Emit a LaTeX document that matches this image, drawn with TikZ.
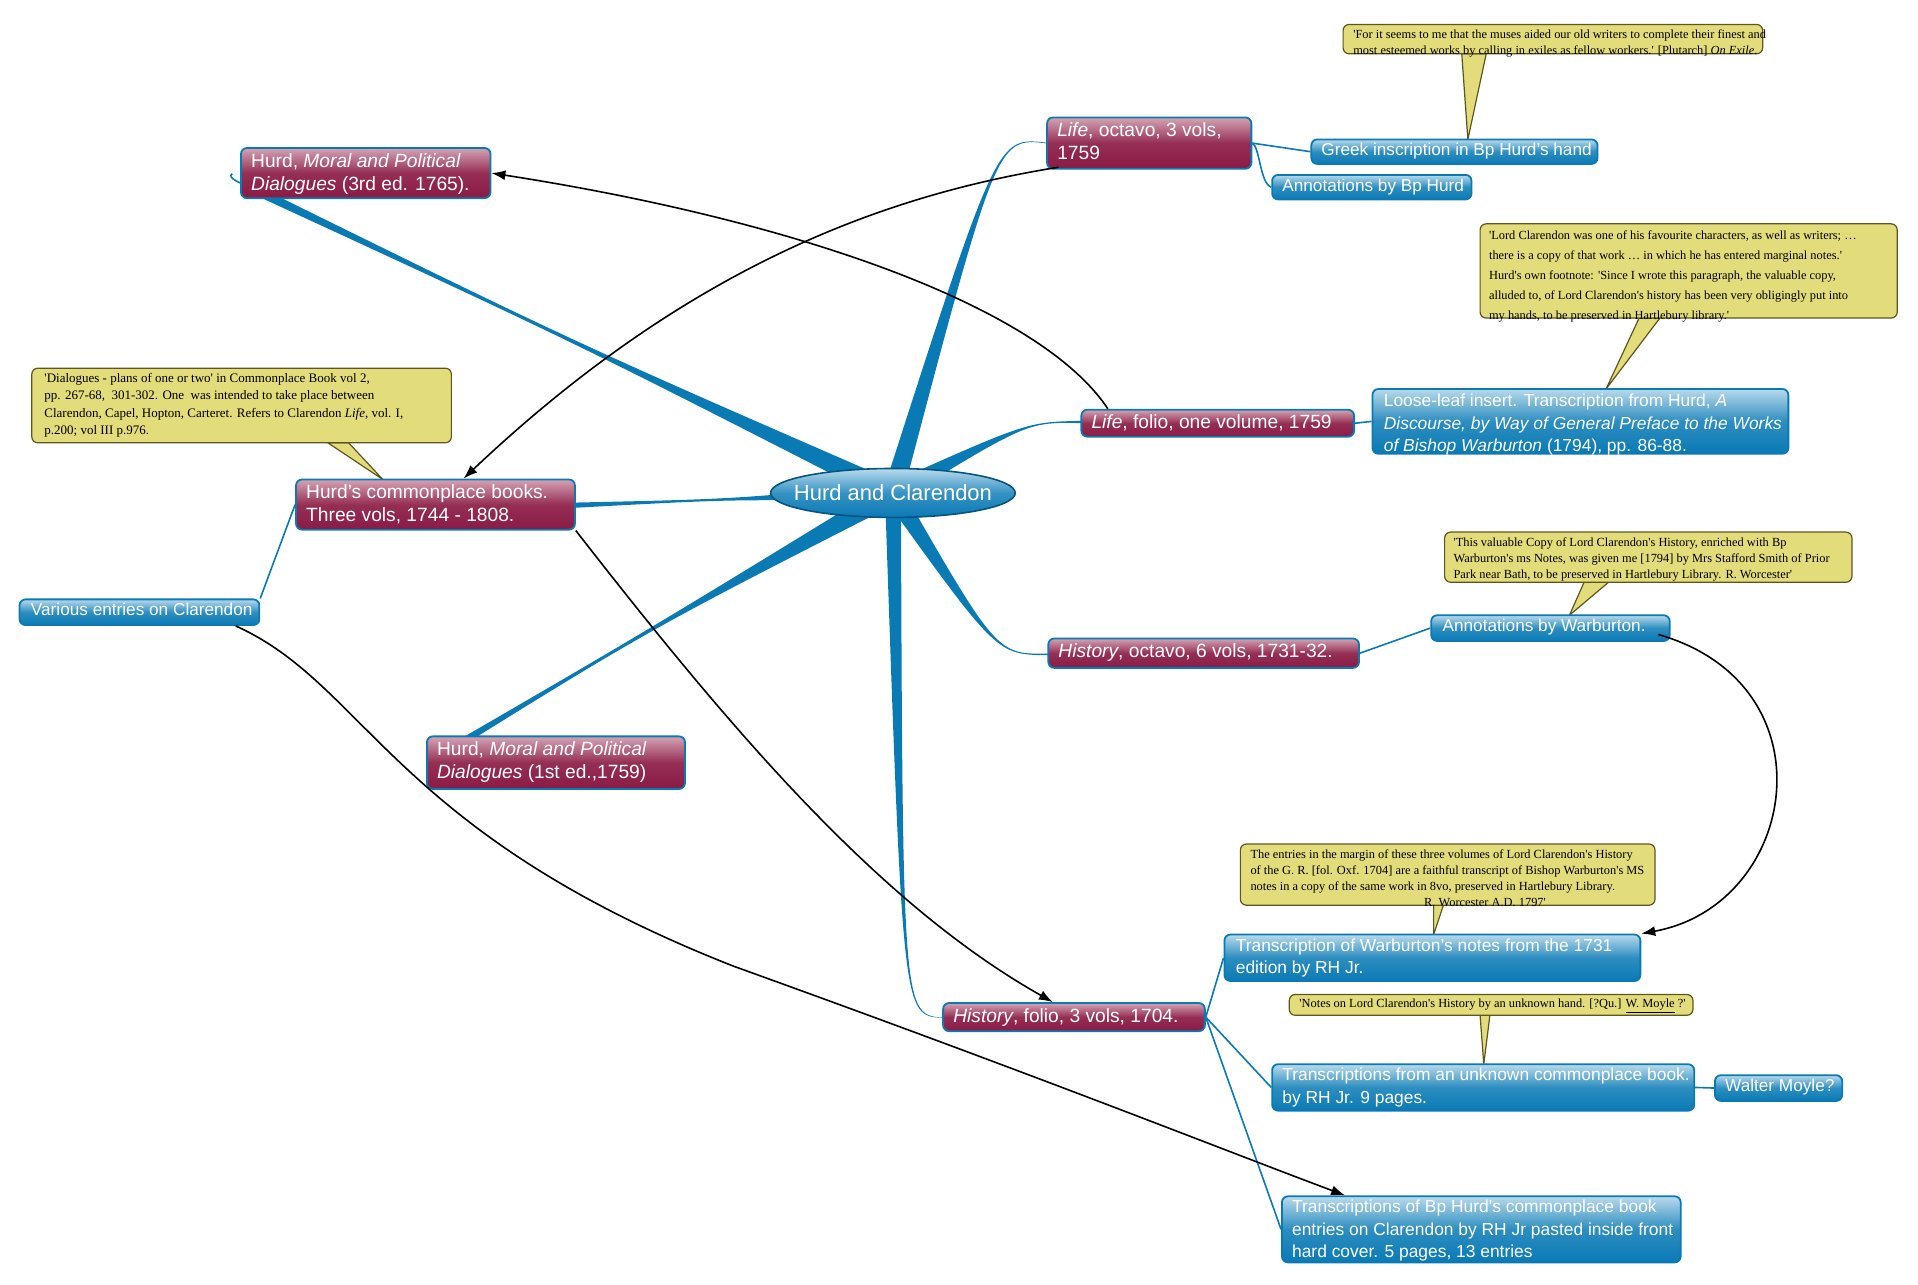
\documentclass[tikz,border=0pt]{standalone}
\usepackage{fontspec}
\setmainfont{Liberation Sans}
\newfontfamily\calfont{Liberation Serif}
\usetikzlibrary{calc,fit,arrows.meta,shapes.geometric}
\definecolor{br}{HTML}{0A7AB5}
\definecolor{mar}{HTML}{8A1A44}
\definecolor{marl}{HTML}{D4A3B3}
\definecolor{bll}{HTML}{B8DAEC}
\definecolor{cy}{HTML}{E3DC7A}
\definecolor{cyd}{HTML}{5E5520}
\def\u{0.6116pt}
\tikzset{
 mbox/.style={draw=br,line width=0.9pt,rounded corners=3pt,inner sep=0pt,top color=marl,bottom color=mar,middle color=mar!85!marl},
 bbox/.style={draw=br,line width=0.9pt,rounded corners=3pt,inner sep=0pt,top color=bll,bottom color=br,middle color=br!80!bll},
 txt/.style={anchor=north west,text=white,font=\fontsize{9.6}{11.6}\selectfont,align=left,inner sep=0pt},
 cbox/.style={draw=cyd,fill=cy,line width=0.6pt,rounded corners=3pt,inner sep=0pt},
 ctxt/.style={anchor=north west,font=\calfont\fontsize{6.2}{8.1}\selectfont,align=left,inner sep=0pt},
 tail/.style={draw=cyd,fill=cy,line width=0.6pt,line join=round},
 branch/.style={fill=br},
 thin/.style={draw=br,line width=0.8pt},
 arr/.style={draw=black,line width=0.8pt,-{Latex[length=7pt,width=5pt]}},
}
\newcommand\taper[5]{\fill[branch] ($(#1)!#3!90:(#2)$) .. controls (#5) .. ($(#2)!#4!-90:(#1)$) -- ($(#2)!#4!90:(#1)$) .. controls (#5) .. ($(#1)!#3!-90:(#2)$) -- cycle;}
\begin{document}
\begin{tikzpicture}[x=0.6116pt,y=-0.6116pt]
\useasboundingbox (0,0) rectangle (1568,1050);
\coordinate (c) at (730,403);
% branches
\coordinate (e1) at (214,158); \coordinate (k1) at (470,280);
\taper{c}{e1}{5.5pt}{2.2pt}{k1}
\coordinate (e2) at (856,117); \coordinate (k2) at (815,112);
\taper{c}{e2}{5pt}{0.6pt}{k2}
\coordinate (e3) at (884,345); \coordinate (k3) at (840,345);
\taper{c}{e3}{5pt}{0.6pt}{k3}
\coordinate (e4) at (470,413); \coordinate (k4) at (600,408);
\taper{c}{e4}{4.5pt}{1.3pt}{k4}
\coordinate (e5) at (857,535); \coordinate (k5) at (815,535);
\taper{c}{e5}{5pt}{0.6pt}{k5}
\coordinate (e6) at (352,622); \coordinate (k6) at (530,515);
\taper{c}{e6}{5.5pt}{2pt}{k6}
\coordinate (e7) at (771,832); \coordinate (k7) at (738,830);
\taper{c}{e7}{4pt}{0.6pt}{k7}
\draw[br,line width=0.8pt] (214,156) .. controls (195,150) and (185,145) .. (190,142);
% center
\node[draw=br!70!black,line width=0.8pt,ellipse,inner xsep=-8pt,inner ysep=0pt,minimum width=200*\u,minimum height=40*\u,top color=bll,bottom color=br,middle color=br!75!bll,text=white,font=\fontsize{11}{13}\selectfont] (hc) at (c) {Hurd and Clarendon};
% callout tails
\fill[tail] (1195,44) -- (1215,44) -- (1200,114) -- cycle;
\fill[tail] (1340,260) -- (1357,260) -- (1313,318) -- cycle;
\fill[tail] (268,362) -- (285,362) -- (313,392) -- cycle;
\fill[tail] (1295,476) -- (1315,476) -- (1283,503) -- cycle;
\fill[tail] (1172,740) -- (1180,740) -- (1172,764) -- cycle;
\fill[tail] (1210,830) -- (1218,830) -- (1213,870) -- cycle;
% callouts
\node[cbox,fit={(1098,20)(1441,44)}] (q1) {};
\node[ctxt] at (1106,24) {'For it seems to me that the muses aided our old writers to complete their finest and\\most esteemed works by calling in exiles as fellow workers.' [Plutarch] \textit{On Exile}.};
\node[cbox,fit={(1210,183)(1551,260)}] (q2) {};
\node[ctxt,font=\calfont\fontsize{6.2}{10}\selectfont] at (1217,188) {'Lord Clarendon was one of his favourite characters, as well as writers; \dots\\there is a copy of that work \dots\ in which he has entered marginal notes.'\\Hurd's own footnote: 'Since I wrote this paragraph, the valuable copy,\\alluded to, of Lord Clarendon's history has been very obligingly put into\\my hands, to be preserved in Hartlebury library.'};
\node[cbox,fit={(26,301)(369,362)}] (q3) {};
\node[ctxt,font=\calfont\fontsize{6.5}{8.6}\selectfont] at (36,305) {'Dialogues - plans of one or two' in Commonplace Book vol 2,\\pp. 267-68,\ \ 301-302. One\ \ was intended to take place between\\Clarendon, Capel, Hopton, Carteret. Refers to Clarendon \textit{Life}, vol. I,\\p.200; vol III p.976.};
\node[cbox,fit={(1181,435)(1514,476)}] (q4) {};
\node[ctxt] at (1188,439) {'This valuable Copy of Lord Clarendon's History, enriched with Bp\\Warburton's ms Notes, was given me [1794] by Mrs Stafford Smith of Prior\\Park near Bath, to be preserved in Hartlebury Library. R. Worcester'};
\node[cbox,fit={(1014,690)(1353,740)}] (q5) {};
\node[ctxt] at (1022,694) {The entries in the margin of these three volumes of Lord Clarendon's History\\of the G. R. [fol. Oxf. 1704] are a faithful transcript of Bishop Warburton's MS\\notes in a copy of the same work in 8vo, preserved in Hartlebury Library.\\\hspace*{14em}R. Worcester A.D. 1797'};
\node[cbox,fit={(1054,813)(1384,830)}] (q6) {};
\node[ctxt] at (1062,816) {'Notes on Lord Clarendon's History by an unknown hand. [?Qu.] \underline{W. Moyle} ?'};
% main nodes
\node[mbox,fit={(197,121)(401,162)}] (m3) {};
\node[txt] at (205,125) {Hurd, \textit{Moral and Political}\\\textit{Dialogues} (3rd ed. 1765).};
\node[mbox,fit={(856,96)(1023,138)}] (lo) {};
\node[txt] at (864,100) {\textit{Life}, octavo, 3 vols,\\1759};
\node[mbox,fit={(884,335)(1107,357)}] (lf) {};
\node[txt] at (892,339) {\textit{Life}, folio, one volume, 1759};
\node[mbox,fit={(242,392)(470,433)}] (cp) {};
\node[txt] at (250,396) {Hurd's commonplace books.\\Three vols, 1744 - 1808.};
\node[mbox,fit={(857,522)(1111,546)}] (ho) {};
\node[txt] at (865,526) {\textit{History}, octavo, 6 vols, 1731-32.};
\node[mbox,fit={(349,602)(560,645)}] (m1) {};
\node[txt] at (357,606) {Hurd, \textit{Moral and Political}\\\textit{Dialogues} (1st ed.,1759)};
\node[mbox,fit={(771,820)(985,843)}] (hf) {};
\node[txt] at (779,824) {\textit{History}, folio, 3 vols, 1704.};
% sub nodes
\node[bbox,fit={(1072,114)(1306,134)}] (gi) {};
\node[txt,font=\fontsize{8.6}{10.6}\selectfont] at (1080,117) {Greek inscription in Bp Hurd's hand};
\node[bbox,fit={(1040,143)(1203,163)}] (ah) {};
\node[txt,font=\fontsize{8.6}{10.6}\selectfont] at (1048,146) {Annotations by Bp Hurd};
\node[bbox,fit={(1122,318)(1462,371)}] (ll) {};
\node[txt,font=\fontsize{8.7}{11.2}\selectfont] at (1131,322) {Loose-leaf insert. Transcription from Hurd, \textit{A}\\\textit{Discourse, by Way of General Preface to the Works}\\\textit{of Bishop Warburton} (1794), pp. 86-88.};
\node[bbox,fit={(16,490)(212,511)}] (ve) {};
\node[txt,font=\fontsize{8.6}{10.6}\selectfont] at (25,493) {Various entries on Clarendon};
\node[bbox,fit={(1170,503)(1365,524)}] (aw) {};
\node[txt,font=\fontsize{8.6}{10.6}\selectfont] at (1179,506) {Annotations by Warburton.};
\node[bbox,fit={(1001,764)(1341,802)}] (tw) {};
\node[txt,font=\fontsize{8.7}{11.2}\selectfont] at (1010,767) {Transcription of Warburton's notes from the 1731\\edition by RH Jr.};
\node[bbox,fit={(1040,870)(1385,908)}] (tu) {};
\node[txt,font=\fontsize{8.7}{11.2}\selectfont] at (1048,873) {Transcriptions from an unknown commonplace book.\\by RH Jr. 9 pages.};
\node[bbox,fit={(1402,879)(1506,900)}] (wm) {};
\node[txt,font=\fontsize{8.6}{10.6}\selectfont] at (1410,882) {Walter Moyle?};
\node[bbox,fit={(1048,978)(1374,1032)}] (th) {};
\node[txt,font=\fontsize{8.7}{11.2}\selectfont] at (1056,981) {Transcriptions of Bp Hurd's commonplace book\\entries on Clarendon by RH Jr pasted inside front\\hard cover. 5 pages, 13 entries};
% thin connectors
\draw[thin] (lo.east) -- (gi.west);
\draw[thin] (lo.east) .. controls (1030,120) and (1030,150) .. (ah.west);
\draw[thin] (lf.east) -- (ll.west);
\draw[thin] (cp.west) -- (ve.north east);
\draw[thin] (ho.east) -- (aw.west);
\draw[thin] (hf.east) -- (tw.west);
\draw[thin] (hf.east) -- (tu.west);
\draw[thin] (hf.east) -- (th.west);
\draw[thin] (tu.east) -- (wm.west);
% arrows
\draw[arr] ($(lo.south west)+(10,-2)$) .. controls (720,160) and (560,220) .. ($(cp.north west)!0.6!(cp.north east)$);
\draw[arr] ($(lf.north west)!0.1!(lf.north east)$) .. controls (850,250) and (650,180) .. (m3.east);
\draw[arr] (cp.south east) .. controls (600,600) and (720,740) .. ($(hf.north west)!0.42!(hf.north east)$);
\draw[arr] ($(ve.south east)+(-20,0)$) .. controls (300,560) and (320,680) .. (600,790) .. controls (850,880) and (1000,940) .. ($(th.north west)!0.16!(th.north east)$);
\draw[arr] ($(aw.south east)+(-10,-6)$) .. controls (1500,560) and (1470,740) .. (tw.north east);
\end{tikzpicture}
\end{document}
